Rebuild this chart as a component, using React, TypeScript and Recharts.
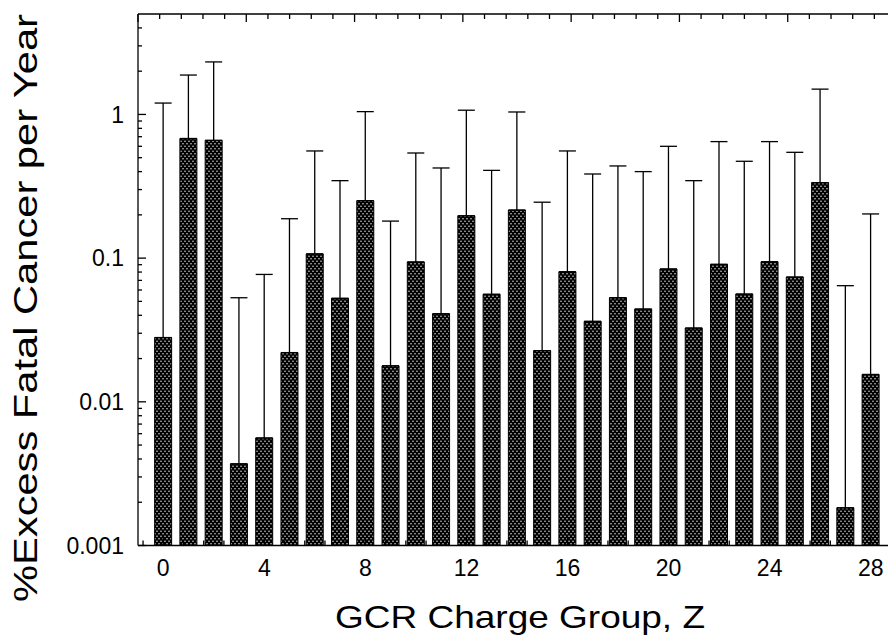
import React from 'react';
import { ComposedChart, Bar, ErrorBar, XAxis, YAxis } from 'recharts';

// GCR charge groups and % excess fatal cancer per year (bar = estimate, whisker = upper bound)
const chargeGroups = [0, 1, 2, 3, 4, 5, 6, 7, 8, 9, 10, 11, 12, 13, 14, 15, 16, 17, 18, 19, 20, 21, 22, 23, 24, 25, 26, 27, 28];
const excessRisk = [
  0.028, 0.68, 0.66, 0.0037, 0.0056, 0.022, 0.107, 0.0525, 0.251, 0.0178,
  0.094, 0.041, 0.197, 0.056, 0.216, 0.0227, 0.0804, 0.0363, 0.053, 0.0442,
  0.084, 0.0326, 0.0905, 0.0562, 0.0944, 0.0738, 0.335, 0.00183, 0.0155,
];
const upperBound = [
  1.2, 1.88, 2.32, 0.053, 0.077, 0.188, 0.557, 0.346, 1.046, 0.181,
  0.539, 0.424, 1.07, 0.408, 1.04, 0.245, 0.557, 0.385, 0.438, 0.4,
  0.6, 0.346, 0.647, 0.472, 0.647, 0.545, 1.5, 0.0643, 0.203,
];

const xTickLabels = [0, 4, 8, 12, 16, 20, 24, 28];
const yTickLabels = [0.001, 0.01, 0.1, 1];
const yMinorTicks = [
  0.002, 0.003, 0.004, 0.005, 0.006, 0.007, 0.008, 0.009,
  0.02, 0.03, 0.04, 0.05, 0.06, 0.07, 0.08, 0.09,
  0.2, 0.3, 0.4, 0.5, 0.6, 0.7, 0.8, 0.9,
  2, 3, 4,
];
// minor x ticks every 0.8 units (5 per labelled step of 4)
const xBottomTicks = Array.from({ length: 38 }, (_, k) => Math.round((k * 0.8 - 0.8) * 10) / 10);
const xTopTicks = xBottomTicks.filter((v) => v >= 0);
const yAllTicks = [...yTickLabels, ...yMinorTicks].sort((a, b) => a - b);

const data = chargeGroups.map((z, i) => ({
  z,
  risk: excessRisk[i],
  err: [0, upperBound[i] - excessRisk[i]],
}));

const FONT = '"Liberation Sans", Arial, Helvetica, sans-serif';
const AXIS_W = 1.3;

const isMajorX = (v: number) => xTickLabels.some((t) => Math.abs(t - v) < 1e-6);
const isMajorY = (v: number) => yTickLabels.some((t) => Math.abs(t - v) / t < 1e-6);

const BottomTick = (props: any) => {
  const { x, y, payload } = props;
  const major = isMajorX(payload.value);
  return (
    <g>
      <line x1={x} x2={x} y1={y} y2={y - (major ? 8 : 5)} stroke="#000" strokeWidth={AXIS_W} />
      {major && (
        <text x={x} y={y + 14} dy="0.71em" textAnchor="middle" fontSize={23} fontFamily={FONT} fill="#000">
          {payload.value}
        </text>
      )}
    </g>
  );
};

const TopTick = (props: any) => {
  const { x, y, payload } = props;
  const major = isMajorX(payload.value);
  return <line x1={x} x2={x} y1={y} y2={y + (major ? 8 : 5)} stroke="#000" strokeWidth={AXIS_W} />;
};

const LeftTick = (props: any) => {
  const { x, y, payload } = props;
  const major = isMajorY(payload.value);
  return (
    <g>
      <line x1={x} x2={x + (major ? 8 : 4)} y1={y} y2={y} stroke="#000" strokeWidth={AXIS_W} />
      {major && (
        <text x={x - 14} y={y} dy="0.355em" textAnchor="end" fontSize={23} fontFamily={FONT} fill="#000">
          {String(payload.value)}
        </text>
      )}
    </g>
  );
};

const RightTick = (props: any) => {
  const { x, y, payload } = props;
  const major = isMajorY(payload.value);
  return <line x1={x} x2={x - (major ? 8 : 4)} y1={y} y2={y} stroke="#000" strokeWidth={AXIS_W} />;
};

export default function App() {
  return (
    <div style={{ position: 'fixed', left: 0, top: 0, width: 888, height: 638, overflow: 'hidden', background: '#fff' }}>
      <ComposedChart
        width={910}
        height={638}
        data={data}
        margin={{ top: 14, right: 14, bottom: 0, left: 0 }}
      >
        <defs>
          <pattern id="dots" patternUnits="userSpaceOnUse" width={4} height={5}>
            <rect x={0} y={0} width={4} height={5} fill="#000" />
            <circle cx={1} cy={1.25} r={0.7} fill="#fff" />
            <circle cx={3} cy={3.75} r={0.7} fill="#fff" />
          </pattern>
        </defs>
        <XAxis
          xAxisId="main"
          dataKey="z"
          type="number"
          domain={[-1, 29]}
          allowDataOverflow
          ticks={xBottomTicks}
          interval={0}
          height={92.5}
          tickSize={0}
          tickMargin={0}
          tickLine={false}
          tick={BottomTick}
          axisLine={{ stroke: '#000', strokeWidth: AXIS_W }}
        />
        <XAxis
          xAxisId="top"
          orientation="top"
          mirror
          type="number"
          domain={[-1, 29]}
          allowDataOverflow
          ticks={xTopTicks}
          interval={0}
          height={1}
          tickSize={0}
          tickMargin={0}
          tickLine={false}
          tick={TopTick}
          axisLine={{ stroke: '#000', strokeWidth: AXIS_W }}
        />
        <YAxis
          yAxisId="left"
          scale="log"
          type="number"
          domain={[0.001, 5]}
          allowDataOverflow
          ticks={yAllTicks}
          interval={0}
          width={138}
          tickSize={0}
          tickMargin={0}
          tickLine={false}
          tick={LeftTick}
          axisLine={{ stroke: '#000', strokeWidth: AXIS_W }}
        />
        <YAxis
          yAxisId="right"
          orientation="right"
          mirror
          scale="log"
          type="number"
          domain={[0.001, 5]}
          allowDataOverflow
          ticks={yAllTicks}
          interval={0}
          width={1}
          tickSize={0}
          tickMargin={0}
          tickLine={false}
          tick={RightTick}
          axisLine={{ stroke: '#000', strokeWidth: AXIS_W }}
        />
        <Bar
          xAxisId="main"
          yAxisId="left"
          dataKey="risk"
          barSize={17}
          fill="url(#dots)"
          stroke="#000"
          strokeWidth={1}
          isAnimationActive={false}
        >
          <ErrorBar dataKey="err" width={8.5} stroke="#000" strokeWidth={1.3} isAnimationActive={false} />
        </Bar>
      </ComposedChart>
      <svg width={888} height={638} style={{ position: 'absolute', left: 0, top: 0, pointerEvents: 'none' }}>
        <text
          x={520}
          y={627.5}
          textAnchor="middle"
          fontSize={32}
          fontFamily={FONT}
          textLength={370}
          lengthAdjust="spacingAndGlyphs"
          fill="#000"
        >
          GCR Charge Group, Z
        </text>
        <text
          x={37}
          y={308}
          transform="rotate(-90 37 308)"
          textAnchor="middle"
          fontSize={33}
          fontFamily={FONT}
          textLength={588}
          lengthAdjust="spacingAndGlyphs"
          fill="#000"
        >
          %Excess Fatal Cancer per Year
        </text>
      </svg>
    </div>
  );
}
